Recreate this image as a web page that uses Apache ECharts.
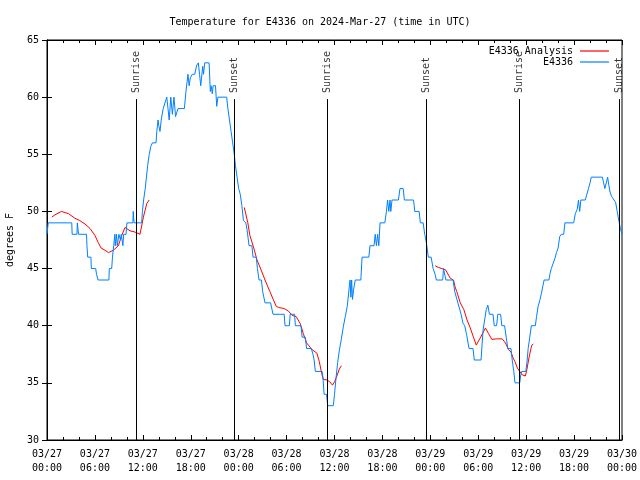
<!DOCTYPE html>
<html>
<head>
<meta charset="utf-8">
<script src="https://cdn.jsdelivr.net/npm/echarts@6/dist/echarts.min.js"></script>
<style>html,body{margin:0;padding:0;background:#fff}#c{width:640px;height:480px}</style>
</head>
<body>
<div id="c"></div>
<script>
// hours since 03/27 00:00 UTC
var obsTimes = [0.0,0.1,0.15,3.1,3.15,3.75,3.8,3.9,3.95,4.95,5.0,5.1,5.5,5.55,6.1,6.2,6.4,7.75,7.8,8.1,8.2,8.35,8.5,8.55,8.7,8.8,9.0,9.2,9.3,9.5,9.6,9.9,10.0,10.75,10.8,10.9,11.85,11.95,12.1,12.3,12.45,12.6,12.8,13.0,13.2,13.65,13.75,13.9,14.0,14.15,14.3,14.55,14.7,15.0,15.15,15.3,15.5,15.7,15.9,16.1,16.4,17.2,17.4,17.65,17.8,17.95,18.2,18.5,18.75,18.95,19.1,19.25,19.5,19.6,19.75,20.3,20.45,20.55,20.7,20.8,21.1,21.25,21.4,21.6,22.5,22.65,22.85,23.05,23.25,23.45,23.6,23.8,24.0,24.2,24.4,24.6,24.9,25.05,25.3,25.65,25.8,26.2,26.35,26.55,26.85,27.0,27.3,28.0,28.3,29.7,29.8,30.35,30.45,31.0,31.1,31.8,31.95,32.35,32.5,33.1,33.3,33.45,33.6,34.45,34.55,34.7,35.0,35.15,35.85,36.0,36.2,36.4,36.6,36.85,37.1,37.35,37.6,37.85,37.95,38.05,38.15,38.25,38.4,38.6,39.3,39.45,40.3,40.45,40.95,41.1,41.25,41.4,41.55,41.7,42.3,42.5,42.65,42.8,42.95,43.05,43.2,44.0,44.2,44.6,44.75,45.9,46.05,46.6,46.75,47.1,47.3,47.5,47.75,48.1,48.35,48.6,48.75,49.55,49.65,49.85,49.95,50.85,51.05,51.3,51.45,51.65,51.85,52.1,52.3,52.55,52.85,53.35,53.5,54.35,54.6,54.8,55.0,55.2,55.4,55.85,56.0,56.3,56.45,56.8,56.95,57.3,57.5,57.7,58.1,58.25,58.45,58.6,59.2,59.3,59.45,59.95,60.1,60.25,60.45,60.65,61.15,61.3,61.5,61.7,61.9,62.1,62.25,62.85,63.0,63.15,63.4,63.6,63.8,64.0,64.2,64.4,64.7,64.85,65.95,66.15,66.4,66.55,66.7,66.85,67.4,67.6,67.8,68.0,68.15,69.55,69.7,69.85,70.1,70.2,70.35,70.5,70.7,71.0,71.2,71.4,71.6,71.8,72.0];
var obsTemps = [48,48,49,49,48,48,49,49,48,48,47,46,46,45,45,44.5,44,44,45,45,46,47,48,47,48,47,48,47.5,48,47,48,48,49,49,50,49,49,50,51,52,53,54,55,55.7,56,56,57,58,57.5,57,58,59,59,60,59,58,60,58.5,60,58.3,59,59,60.5,62,61,61.7,62,62,62.8,63,62,61,62.7,62,63,63,60.5,61,60.3,61,61,59.2,60,60,60,59,58,57,56,55,54,53,52,51.5,50.5,49.2,49,48.4,47,47,46,46,45,44,44,43,42,42,41,41,40,40,41,41,40,40,39,39,38,38,37.5,37,36,36,35.5,34,34,33,33,34,35.5,36.8,37.8,38.8,39.9,40.8,41.7,43.4,44,42.5,44,42.3,43.2,44,44,46,46,47,47,48,47,48,47,49,49,50,51,50,51,50,51,51,52,52,51,51,50,50,49,49,48,47.3,46,46,45,44.5,44,44,45,45,44,44,43,43,42,42,41,40.2,40,39.2,38,38,37,37,39.6,40.5,41.4,41.8,41,41,40,40,41,41,40,40,39,38,38,37,36,35,35,35.6,36,36,36.8,38,39,40,40,40.8,41.7,42.2,42.8,43.5,44,44,44.6,45,45,45.9,46.4,46.8,47.8,48,48,49,49,49.8,50.2,51,50,51,51,51.5,52,52.5,53,53,52.5,52,52,53,52.3,51.7,51.3,51,50.8,50,49.2,48.5,48];
var anaTimes = [0.6,1.0,1.8,2.7,3.5,4.1,4.76,5.4,6.0,6.4,6.77,7.27,7.7,8.3,8.94,9.36,9.77,10.4,11.0,11.65,11.85,12.07,12.5,12.8,18,24.7,24.9,25.15,25.4,25.85,26.3,26.8,27.3,27.9,28.36,28.7,29.0,29.7,30.2,30.7,31.2,31.7,32.1,32.5,33.2,33.8,34.1,34.4,34.6,35.05,35.4,35.75,36.0,36.3,36.6,36.85,42,48.6,49.0,49.45,49.9,50.5,50.9,51.1,51.3,51.75,52.2,52.6,53.0,53.4,53.75,54.3,54.9,55.3,55.7,56.3,57.0,57.4,57.8,58.1,58.35,58.6,58.9,59.2,59.5,59.9,60.1,60.3,60.5,60.7,60.9];
var anaTemps = [49.5,49.7,50.0,49.8,49.4,49.2,48.9,48.5,47.9,47.3,46.8,46.6,46.4,46.6,47.0,47.9,48.6,48.3,48.2,48.0,47.9,49.5,50.7,51.0,null,50.35,50.2,49.0,47.9,46.9,45.75,44.9,44.0,43.0,42.25,41.7,41.6,41.5,41.3,40.9,40.8,40.2,39.3,38.5,37.9,37.6,36.85,35.8,35.3,35.25,35.1,34.8,35.1,35.6,36.2,36.5,null,45.25,45.1,45.0,44.9,44.15,44.0,43.4,43.0,42.0,41.4,40.5,39.8,39.0,38.3,39.0,39.8,39.3,38.8,38.85,38.85,38.5,37.9,37.7,37.2,36.85,36.3,36.0,35.7,35.6,36.2,37.0,37.7,38.3,38.4];
var sunTimes = [11.19,23.47,35.13,47.53,59.19,71.7];
var sunLabels = ['Sunrise','Sunset','Sunrise','Sunset','Sunrise','Sunset'];
var xTickLabels = ['03/27\n00:00','03/27\n06:00','03/27\n12:00','03/27\n18:00','03/28\n00:00','03/28\n06:00','03/28\n12:00','03/28\n18:00','03/29\n00:00','03/29\n06:00','03/29\n12:00','03/29\n18:00','03/30\n00:00'];
var sunLineTop = 59.83;

var FONT = 'DejaVu Sans Mono';
var obsData = obsTimes.map(function(t,i){return [t, obsTemps[i]];});
var anaData = anaTimes.map(function(t,i){return [t, anaTemps[i]==null?'-':anaTemps[i]];});
var sunData = sunTimes.map(function(t,i){return {value:[t, sunLineTop], name: sunLabels[i]};});
var sunMark = sunTimes.map(function(t){return [{coord:[t,30]},{coord:[t,sunLineTop]}];});

var chart = echarts.init(document.getElementById('c'), null, {renderer:'canvas'});
var axisBase = {
  type:'value', min:0, max:72, interval:6,
  axisLine:{show:true, lineStyle:{color:'#000', width:1}},
  axisTick:{show:true, inside:true, length:5, lineStyle:{color:'#000'}},
  minorTick:{show:true, splitNumber:3, length:3, lineStyle:{color:'#000'}},
  splitLine:{show:false}
};
chart.setOption({
  animation:false,
  backgroundColor:'#fff',
  title:{text:'Temperature for E4336 on 2024-Mar-27 (time in UTC)', left:'center', top:12,
    textStyle:{fontFamily:FONT, fontSize:10, fontWeight:'normal', color:'#000'}},
  legend:{
    orient:'vertical', right:26, top:41, align:'right', itemGap:1,
    itemWidth:29, itemHeight:1.2, icon:'rect',
    textStyle:{fontFamily:FONT, fontSize:10, color:'#000', padding:[0,2,0,0]},
    data:['E4336 Analysis','E4336']
  },
  grid:{left:47, right:18, top:40, bottom:40, show:true, borderColor:'#000', borderWidth:1,
    containLabel:false, outerBoundsMode:'none'},
  xAxis:[
    Object.assign({}, axisBase, {position:'bottom',
      axisLabel:{fontFamily:FONT, fontSize:10, color:'#000', lineHeight:14, margin:7,
        formatter:function(v){return xTickLabels[Math.round(v/6)];}}}),
    Object.assign({}, axisBase, {position:'top', axisLabel:{show:false}})
  ],
  yAxis:[
    {type:'value', min:30, max:65, interval:5, position:'left',
      name:'degrees F', nameLocation:'middle', nameGap:32, nameRotate:90,
      nameTextStyle:{fontFamily:FONT, fontSize:10, color:'#000'},
      axisLine:{show:true, lineStyle:{color:'#000'}},
      axisTick:{show:true, inside:true, length:5, lineStyle:{color:'#000'}},
      axisLabel:{fontFamily:FONT, fontSize:10, color:'#000', margin:8},
      splitLine:{show:false}},
    {type:'value', min:30, max:65, interval:5, position:'right',
      axisLine:{show:true, lineStyle:{color:'#000'}},
      axisTick:{show:true, inside:true, length:5, lineStyle:{color:'#000'}},
      axisLabel:{show:false}, splitLine:{show:false}}
  ],
  series:[
    {name:'sun', type:'scatter', data:sunData, symbolSize:0, silent:true,
      label:{show:true, formatter:'{b}', position:'top', distance:6, rotate:90,
        align:'left', verticalAlign:'middle',
        fontFamily:FONT, fontSize:10, color:'#000'},
      markLine:{silent:true, symbol:'none', label:{show:false},
        lineStyle:{color:'#000', width:1, type:'solid'}, data:sunMark}},
    {name:'E4336 Analysis', type:'line', data:anaData, showSymbol:false, symbol:'none',
      connectNulls:false, lineStyle:{color:'#ff0000', width:1}, itemStyle:{color:'#ff0000'}},
    {name:'E4336', type:'line', data:obsData, showSymbol:false, symbol:'none',
      lineStyle:{color:'#0080ff', width:1}, itemStyle:{color:'#0080ff'}}
  ]
});
</script>
</body>
</html>
